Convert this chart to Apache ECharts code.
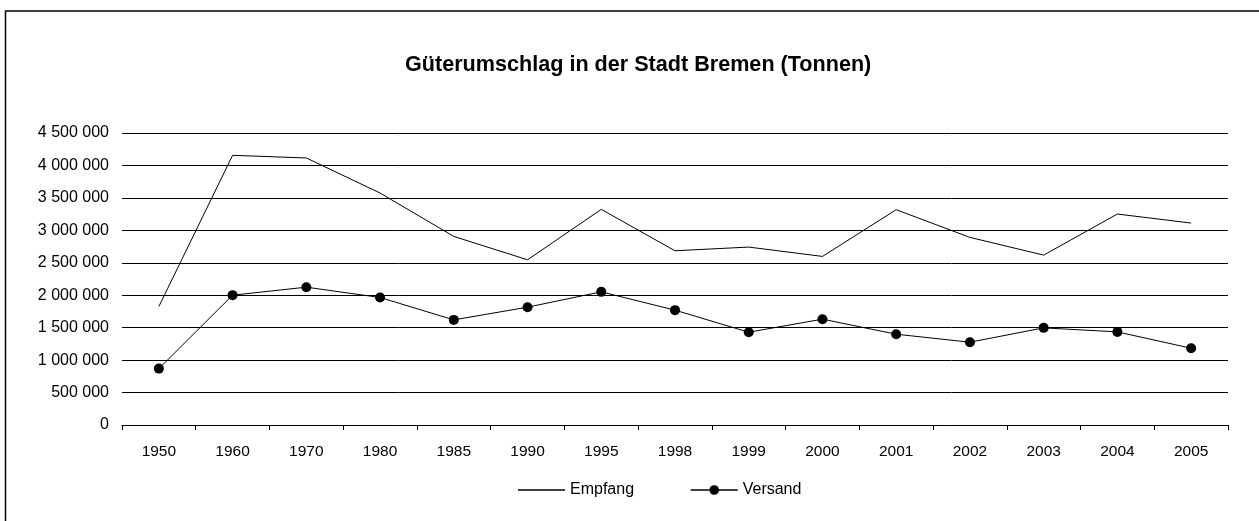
<!DOCTYPE html>
<html>
<head>
<meta charset="utf-8">
<script src="https://cdn.jsdelivr.net/npm/echarts@6/dist/echarts.min.js"></script>
<style>
html,body{margin:0;padding:0;background:#fff;}
#chart{width:1259px;height:521px;}
</style>
</head>
<body>
<div id="chart"></div>
<script>
const titleText = 'Güterumschlag in der Stadt Bremen (Tonnen)';
const years = ['1950','1960','1970','1980','1985','1990','1995','1998','1999','2000','2001','2002','2003','2004','2005'];
const empfang = [1826000,4156000,4115000,3575000,2906000,2546000,3323000,2685000,2742000,2598000,3318000,2891000,2618000,3251000,3112000];
const versand = [869000,2001000,2124000,1965000,1620000,1816000,2052000,1770000,1430000,1631000,1399000,1276000,1497000,1435000,1183000];
const yMin = 0, yMax = 4500000, yStep = 500000;

function fmt(v){
  return String(Math.round(v)).replace(/\B(?=(\d{3})+(?!\d))/g,' ');
}

const chart = echarts.init(document.getElementById('chart'), null, {renderer:'canvas'});
const font = 'Liberation Sans, Arial, sans-serif';
chart.setOption({
  animation:false,
  backgroundColor:'#fff',
  textStyle:{fontFamily:font},
  graphic:[{
    type:'rect', silent:true,
    shape:{x:5.5,y:11,width:1400,height:700},
    style:{fill:null,stroke:'#000',lineWidth:1.5}
  }],
  title:{
    text:titleText, left:400, top:49,
    textStyle:{fontFamily:font,fontSize:21.6,fontWeight:'bold',color:'#000'}
  },
  legend:{
    left:513, top:477, itemWidth:47, itemHeight:12, itemGap:56,
    textStyle:{fontFamily:font,fontSize:16,color:'#000'},
    lineStyle:{width:1.3,color:'#000'},
    data:[
      {name:'Empfang', icon:'path://M0,0L47,0L47,1.3L0,1.3Z'},
      {name:'Versand'}
    ]
  },
  grid:{left:122,right:31,top:133,bottom:96,containLabel:false},
  xAxis:{
    type:'category', data:years, boundaryGap:true,
    axisLine:{lineStyle:{color:'#000',width:1}},
    axisTick:{show:true,length:5,lineStyle:{color:'#000'}},
    axisLabel:{color:'#000',fontSize:15.5,fontFamily:font,margin:19}
  },
  yAxis:{
    type:'value', min:yMin, max:yMax, interval:yStep,
    axisLine:{show:false}, axisTick:{show:false},
    axisLabel:{color:'#000',fontSize:16,fontFamily:font,margin:13,formatter:fmt},
    splitLine:{lineStyle:{color:'#000',width:1}}
  },
  series:[
    {name:'Empfang',type:'line',data:empfang,symbol:'none',
     lineStyle:{color:'#000',width:1},itemStyle:{color:'#000'}},
    {name:'Versand',type:'line',data:versand,symbol:'circle',symbolSize:10,
     lineStyle:{color:'#000',width:1},itemStyle:{color:'#000'}}
  ]
});
</script>
</body>
</html>
